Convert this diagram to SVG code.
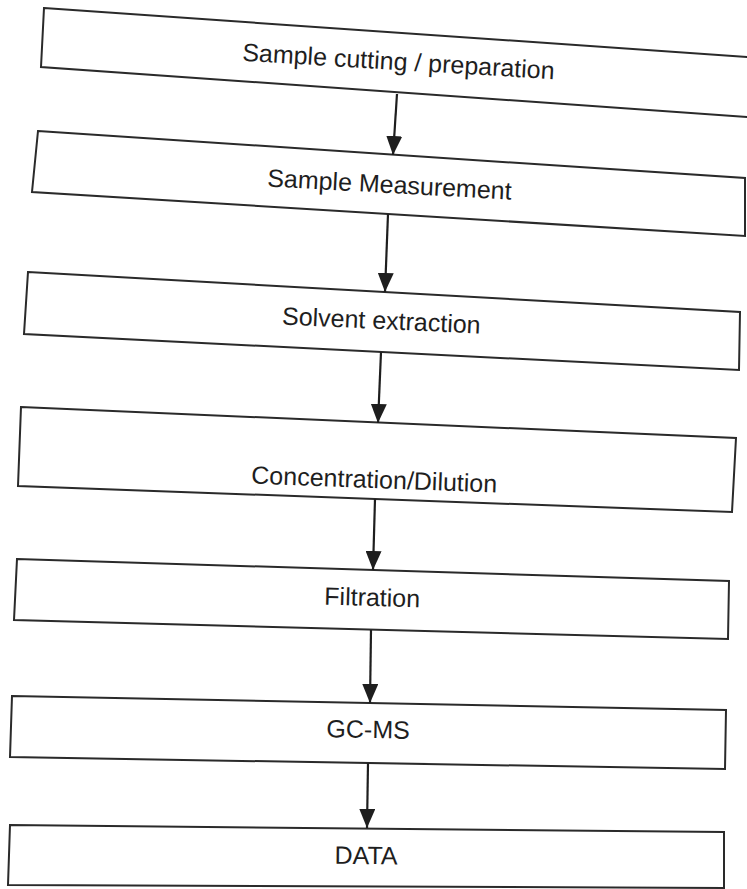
<svg xmlns="http://www.w3.org/2000/svg" width="747" height="889" viewBox="0 0 747 889">
  <style>
    .box { fill: #ffffff; stroke: #2a2a2a; stroke-width: 2; stroke-linejoin: miter; }
    .lbl { font-family: "Liberation Sans", Arial, sans-serif; font-size: 25px; fill: #1e1e1e; text-anchor: middle; }
    .conn { stroke: #1e1e1e; stroke-width: 2.2; fill: none; marker-end: url(#arrow); }
  </style>
  <defs>
    <marker id="arrow" markerUnits="userSpaceOnUse" markerWidth="20" markerHeight="16" viewBox="0 0 20 16" refX="19" refY="8" orient="auto">
      <path d="M0,0 L19,8 L0,16 Z" fill="#1e1e1e"/>
    </marker>
  </defs>
  <rect x="0" y="0" width="747" height="889" fill="#ffffff"/>

  <g id="node-cutting">
    <polygon class="box" points="44,8 770,58.6 770,118.6 41,67"/>
    <text class="lbl" x="398" y="70" transform="rotate(3.4 398 70)">Sample cutting / preparation</text>
  </g>
  <g id="node-measurement">
    <polygon class="box" points="38,131 745,178 745,236 32,192"/>
    <text class="lbl" x="389" y="193" transform="rotate(3.1 389 193)">Sample Measurement</text>
  </g>
  <g id="node-extraction">
    <polygon class="box" points="28,272 740,312 739,370 24,334"/>
    <text class="lbl" x="381" y="329" transform="rotate(2.6 381 329)">Solvent extraction</text>
  </g>
  <g id="node-concentration">
    <polygon class="box" points="21,407 736,438 732,512 18,486"/>
    <text class="lbl" x="374" y="488" transform="rotate(2.1 374 488)">Concentration/Dilution</text>
  </g>
  <g id="node-filtration">
    <polygon class="box" points="17,559 729,581 728,639 14,620"/>
    <text class="lbl" x="372" y="606" transform="rotate(1.6 372 606)">Filtration</text>
  </g>
  <g id="node-gcms">
    <polygon class="box" points="12,696 726,710 725,769 10,757"/>
    <text class="lbl" x="368" y="738" transform="rotate(1.0 368 738)">GC-MS</text>
  </g>
  <g id="node-data">
    <polygon class="box" points="10,825 724,832 724,888 8,885"/>
    <text class="lbl" x="366" y="864" transform="rotate(0.5 366 864)">DATA</text>
  </g>

  <g id="connectors">
    <line class="conn" x1="397" y1="94" x2="393" y2="155"/>
    <line class="conn" x1="388" y1="214" x2="385" y2="292"/>
    <line class="conn" x1="381" y1="352" x2="378" y2="423"/>
    <line class="conn" x1="375" y1="499" x2="373" y2="570"/>
    <line class="conn" x1="371" y1="630" x2="370" y2="703"/>
    <line class="conn" x1="368" y1="763" x2="367" y2="828"/>
  </g>
</svg>
